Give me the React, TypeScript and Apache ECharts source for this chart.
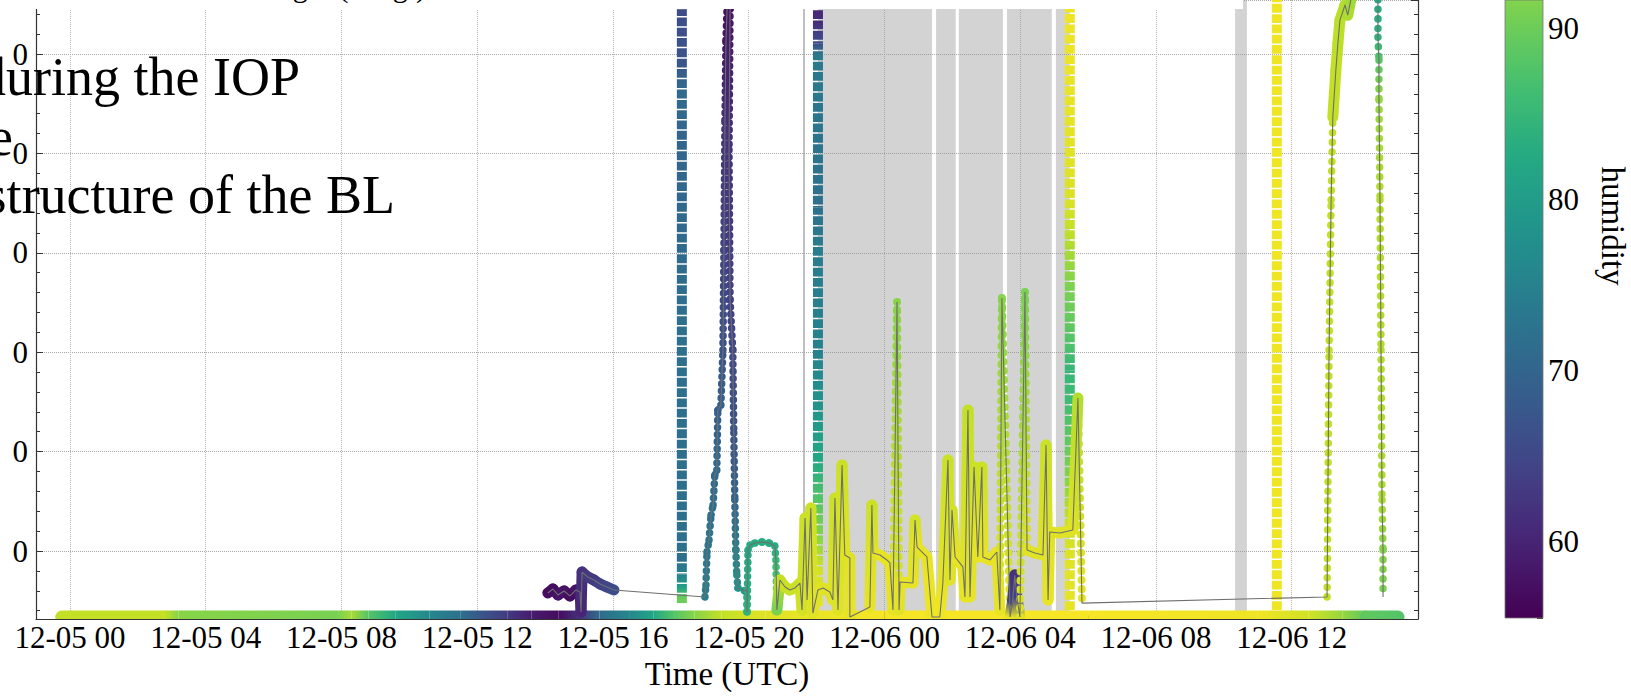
import React, { useEffect, useRef } from "react";
import * as echarts from "echarts";

const FONT = "'Liberation Serif', 'Times New Roman', serif";

// ---- axis ranges ----
const tMin = -1;
const tMax = 39.72;
const altMin = 158;
const altMax = 3272;
const rhMin = 55.56;
const rhMax = 100;
const rhBarTop = 91.64;
const dayLabels = ["12-05", "12-06"];

// ---- ground station (hours since 12-05 00 UTC, RH %) ----
const groundAlt = 168;
const groundT = [-0.24, 2.8, 3.2, 7.9, 8.3, 8.8, 9.6, 10.6, 11.5, 12.2, 12.9, 13.6, 14.4, 15.0, 15.6, 16.5, 17.2, 17.8, 18.4, 19.2, 20.5, 24, 30, 35, 36.5, 37.5, 38.2, 39.13];
const groundRH = [96, 96, 92, 91, 94, 88, 82, 76, 72, 67, 63, 59, 57, 62, 71, 76, 82, 88, 92, 96, 98, 99.5, 99.5, 99, 97, 93, 89, 88];

// ---- vertical profiles (squares) ----
const p1T = 18.03;
const p1Alt = [238, 264, 314, 380, 455, 1511, 2567, 2819, 2970, 3226, 3272];
const p1RH = [90, 90, 81, 75, 72, 72, 70, 71, 67, 66, 66];
const p2T = 22.04;
const p2Alt = [223, 404, 570, 757, 958, 1310, 1511, 1999, 2230, 2995, 3055, 3106, 3161, 3272];
const p2RH = [98.5, 97, 92, 88, 82, 77, 75, 74, 72, 73.5, 66, 64, 61, 60];
const p3T = 29.46;
const p3Alt = [203, 455, 656, 857, 1058, 1260, 1410, 1561, 1813, 1939, 2115, 2266, 2769, 3272];
const p3RH = [98.5, 98, 96, 92, 89, 86, 85, 88, 91, 93, 96, 97.5, 98.5, 99];
const p4T = 35.56;
const p4Alt = [203, 3272];
const p4RH = [99, 99];

// ---- flight tracks ----
const aT = [14.08, 14.23, 14.38, 14.56, 14.73, 14.91, 15.03, 15.06, 15.09, 15.26, 15.44, 15.62, 15.82, 16.03];
const aAlt = [289, 309, 279, 299, 274, 304, 294, 193, 394, 369, 354, 334, 319, 304];
const aRH = [57, 57, 58, 58, 57, 58, 59, 60, 62, 63, 63, 64, 65, 66];

const bT = [18.71, 18.74, 18.77, 18.83, 18.89, 18.95, 19.0, 19.06, 19.09, 19.18, 19.24, 19.27, 19.3, 19.33, 19.39, 19.45, 19.42, 19.45, 19.53, 19.56, 19.59, 19.62, 19.65, 19.68, 19.89, 19.95, 19.95, 19.98, 20.04, 20.18, 20.39, 20.6, 20.77, 20.8, 20.83];
const bAlt = [269, 329, 495, 555, 681, 731, 882, 907, 1209, 1234, 1511, 2014, 2668, 3070, 3372, 3226, 2517, 1763, 1511, 1094, 757, 505, 379, 314, 299, 304, 193, 505, 530, 540, 545, 540, 525, 455, 203];
const bRH = [74, 74, 73, 73, 72, 72, 71, 71, 69, 69, 67, 64.5, 62, 58, 57, 58, 62, 64, 65, 67, 70, 75, 77, 78, 80, 81, 84, 82, 83, 83, 83, 83, 83, 85, 91];

const c1T = [20.83, 20.92, 21.07, 21.21, 21.36, 21.51, 21.57, 21.66, 21.72, 21.83, 21.89, 22.04, 22.19, 22.39, 22.48, 22.54, 22.63, 22.75, 22.83, 22.98, 22.98];
const c1Alt = [203, 354, 319, 304, 314, 339, 203, 666, 254, 716, 188, 304, 314, 294, 254, 767, 203, 933, 480, 465, 168];
const c1RH = [91, 96, 96.5, 96.5, 96.5, 96.5, 97, 96.5, 97, 96.5, 98, 98, 98, 98, 98, 96.5, 98, 96.5, 98, 98, 98.5];

const c2T = [23.57, 23.63, 23.66, 23.87, 24.07, 24.16, 24.25, 24.37, 24.43, 24.46, 24.84, 24.9, 24.96, 25.25, 25.4, 25.63, 25.72, 25.87, 25.93, 25.99, 26.08, 26.31, 26.37, 26.46, 26.52, 26.64, 26.75, 26.87, 26.9, 27.11, 27.31, 27.4, 27.46, 27.7, 27.78, 27.84, 27.9, 27.99, 28.14, 28.2, 28.43, 28.67, 28.76, 28.82, 28.87, 29.17, 29.55, 29.7, 29.82];
const c2Alt = [218, 731, 490, 480, 455, 440, 203, 1753, 203, 344, 339, 656, 520, 470, 168, 168, 339, 958, 354, 706, 470, 420, 269, 1209, 269, 923, 470, 923, 470, 455, 495, 203, 1773, 168, 254, 379, 269, 168, 1803, 505, 490, 480, 1033, 254, 596, 591, 606, 1270, 238];
const c2RH = [98.5, 96.5, 98, 98.5, 98.5, 98.5, 98.5, 92, 98, 98.5, 98.5, 97, 98.5, 98.5, 99, 99, 98.5, 96.5, 98, 97, 98.5, 98.5, 98.5, 96, 98.5, 96.5, 98.5, 96.5, 98.5, 98.5, 98.5, 98.5, 92, 98.5, 64, 62, 64, 98, 91, 98, 98, 98, 96.5, 98.5, 98, 98, 98, 95, 98.5];

const d1T = [37.04, 37.1, 37.16, 37.21];
const d1Alt = [269, 1511, 2266, 2683];
const d1RH = [96, 96, 96, 96];
const dbT = [37.21, 37.3, 37.36, 37.42, 37.57, 37.65, 37.8, 38.3, 38.54];
const dbAlt = [2683, 2919, 3055, 3171, 3247, 3196, 3322, 3422, 3322];
const dbRH = [96, 96, 95.5, 95.5, 95, 94.5, 93, 90, 82];
const d2T = [38.54, 38.54, 38.57, 38.57, 38.6, 38.63, 38.66, 38.69, 38.69];
const d2Alt = [3322, 3085, 2970, 2769, 2266, 1511, 757, 505, 269];
const d2RH = [82, 84, 88, 93, 95, 95, 94.5, 92, 91];

// ---- shaded periods ----
const spanStart = [22.04, 25.52, 26.19, 27.61, 29.05, 34.33];
const spanEnd = [25.4, 26.1, 27.49, 28.93, 29.46, 34.68];
const markT = 21.63;

// ---- viridis ----
const viridisHex = ["#440154", "#482475", "#414487", "#355f8d", "#2a788e", "#21918c", "#22a884", "#44bf70", "#7ad151", "#bddf26", "#fde725"];
const viridisRGB = viridisHex.map((h) => [parseInt(h.slice(1, 3), 16), parseInt(h.slice(3, 5), 16), parseInt(h.slice(5, 7), 16)]);
function viridis(rh: number): string {
  let f = (rh - rhMin) / (rhMax - rhMin);
  f = Math.max(0, Math.min(1, f));
  const p = f * 10;
  const i = Math.min(9, Math.floor(p));
  const u = p - i;
  const a = viridisRGB[i], b = viridisRGB[i + 1];
  const c = a.map((v, k) => Math.round(v + (b[k] - v) * u));
  return `rgb(${c[0]},${c[1]},${c[2]})`;
}

function grad(a: number[], b: number[], c0: string, c1: string) {
  const len = Math.hypot(b[0] - a[0], b[1] - a[1]);
  if (len < 1 || c0 === c1) return c0;
  return new echarts.graphic.LinearGradient(a[0], a[1], b[0], b[1], [{ offset: 0, color: c0 }, { offset: 1, color: c1 }], true);
}

function trackSeries(name: string, t: number[], alt: number[], rh: number[], kind: string, z: number) {
  const data: number[][] = [];
  for (let i = 0; i < t.length - 1; i++) data.push([t[i], alt[i], rh[i], t[i + 1], alt[i + 1], rh[i + 1]]);
  return {
    type: "custom", name, z, clip: true, silent: true, data,
    encode: { x: 0, y: 1 },
    renderItem: (params: any, api: any) => {
      const a = api.coord([api.value(0), api.value(1)]);
      const b = api.coord([api.value(3), api.value(4)]);
      const stroke = grad(a, b, viridis(api.value(2)), viridis(api.value(5)));
      const len = Math.hypot(b[0] - a[0], b[1] - a[1]);
      let style: any;
      if (kind === "band" && len <= 195) style = { stroke, lineWidth: 11, lineCap: "round", fill: null };
      else if (kind === "band") style = { stroke, lineWidth: 8, lineCap: "round", lineDash: [0.1, 9], fill: null };
      else if (kind === "dotsWide") style = { stroke, lineWidth: 7.5, lineCap: "round", lineDash: [0.1, 9.5], fill: null };
      else style = { stroke, lineWidth: 7.5, lineCap: "round", lineDash: [0.1, 7], fill: null };
      return { type: "line", shape: { x1: a[0], y1: a[1], x2: b[0], y2: b[1] }, style };
    },
  };
}

function profileSeries(name: string, t: number, alt: number[], rh: number[]) {
  const data: number[][] = [];
  for (let i = 0; i < alt.length - 1; i++) data.push([t, alt[i], rh[i], alt[i + 1], rh[i + 1]]);
  return {
    type: "custom", name, z: 3, clip: true, silent: true, data,
    encode: { x: 0, y: 1 },
    renderItem: (params: any, api: any) => {
      const a = api.coord([api.value(0), api.value(1)]);
      const b = api.coord([api.value(0), api.value(3)]);
      const base = api.coord([t, alt[0]]);
      const stroke = grad(a, b, viridis(api.value(2)), viridis(api.value(4)));
      return {
        type: "line",
        shape: { x1: a[0], y1: a[1], x2: b[0], y2: b[1] },
        style: { stroke, lineWidth: 10, lineCap: "butt", lineDash: [8.8, 1.5], lineDashOffset: base[1] - a[1], fill: null },
      };
    },
  };
}

function groundSeries() {
  const data: number[][] = [];
  for (let i = 0; i < groundT.length - 1; i++) data.push([groundT[i], groundAlt, groundRH[i], groundT[i + 1], groundRH[i + 1]]);
  const n = data.length;
  return {
    type: "custom", name: "ground", z: 2, clip: true, silent: true, data,
    encode: { x: 0, y: 1 },
    renderItem: (params: any, api: any) => {
      const a = api.coord([api.value(0), api.value(1)]);
      const b = api.coord([api.value(3), api.value(1)]);
      const stroke = grad(a, b, viridis(api.value(2)), viridis(api.value(4)));
      const cap = params.dataIndex === 0 || params.dataIndex === n - 1 ? "round" : "butt";
      return { type: "line", shape: { x1: a[0], y1: a[1], x2: b[0], y2: b[1] }, style: { stroke, lineWidth: 13, lineCap: cap, fill: null } };
    },
  };
}

function colorbarSeries() {
  const stops: any[] = [];
  for (let k = 0; k <= 20; k++) {
    const f = k / 20;
    stops.push({ offset: f, color: viridis(rhMin + f * (rhBarTop - rhMin)) });
  }
  return {
    type: "custom", name: "colorbar", xAxisIndex: 1, yAxisIndex: 2, silent: true, z: 2,
    data: [[0.5, rhMin]],
    encode: { x: 0, y: 1 },
    renderItem: (params: any) => {
      const cs = params.coordSys;
      return {
        type: "rect",
        shape: { x: cs.x, y: cs.y, width: cs.width, height: cs.height },
        style: { fill: new echarts.graphic.LinearGradient(0, 1, 0, 0, stops), stroke: "#777", lineWidth: 0.8 },
      };
    },
  };
}

const grayPath: number[][] = [];
[[aT, aAlt], [bT, bAlt], [c1T, c1Alt], [c2T, c2Alt], [d1T, d1Alt], [dbT, dbAlt], [d2T, d2Alt]].forEach(([t, alt]) => {
  t.forEach((v, i) => grayPath.push([v, alt[i]]));
});

const labelStyle = { fontFamily: FONT, fontSize: 31, color: "#000" };

function xLabel(v: number) {
  const h = Math.round(v);
  const d = Math.floor(h / 24);
  if (d < 0 || d >= dayLabels.length) return "";
  return `${dayLabels[d]} ${String(h - 24 * d).padStart(2, "0")}`;
}

const bigText = (text: string, x: number, y: number) => ({
  type: "text", z: 101, x, y,
  style: { text, fontFamily: FONT, fontSize: 54, fill: "#000", align: "right", textAlign: "right", verticalAlign: "middle", textVerticalAlign: "middle" },
});

const option: any = {
  animation: false,
  backgroundColor: "#fff",
  textStyle: { fontFamily: FONT },
  grid: [
    { left: 36, right: 213, top: 0, bottom: 79, outerBoundsMode: "none" },
    { left: 1505, width: 38, top: 0, bottom: 80, outerBoundsMode: "none" },
  ],
  xAxis: [
    {
      type: "value", gridIndex: 0, min: tMin, max: tMax, minInterval: 4, maxInterval: 4,
      axisLine: { show: true, onZero: false, lineStyle: { color: "#333", width: 1.2 } },
      axisTick: { show: true, inside: true, length: 7, lineStyle: { color: "#333" } },
      minorTick: { show: true, splitNumber: 4, length: 4, lineStyle: { color: "#333" } },
      splitLine: { show: true, lineStyle: { color: "#b8b8b8", width: 1, type: "dotted" } },
      axisLabel: { ...labelStyle, margin: 3, formatter: xLabel, showMinLabel: false, showMaxLabel: false },
      name: "Time (UTC)", nameLocation: "middle", nameGap: 35,
      nameTextStyle: { fontFamily: FONT, fontSize: 33, color: "#000" },
    },
    { type: "value", gridIndex: 1, min: 0, max: 1, show: false },
  ],
  yAxis: [
    {
      type: "value", gridIndex: 0, min: altMin, max: altMax, minInterval: 500, maxInterval: 500,
      axisLine: { show: true, onZero: false, lineStyle: { color: "#333", width: 1.2 } },
      axisTick: { show: true, inside: true, length: 7, lineStyle: { color: "#333" } },
      minorTick: { show: true, splitNumber: 5, length: 4, lineStyle: { color: "#333" } },
      splitLine: { show: true, lineStyle: { color: "#a8a8a8", width: 1, type: "dotted" } },
      axisLabel: { ...labelStyle, margin: 8, formatter: (v: number) => String(Math.round(v)).slice(-1), showMinLabel: false, showMaxLabel: false },
    },
    {
      type: "value", gridIndex: 0, position: "right", min: altMin, max: altMax, minInterval: 500, maxInterval: 500,
      axisLine: { show: true, onZero: false, lineStyle: { color: "#333", width: 1.2 } },
      axisTick: { show: true, inside: true, length: 7, lineStyle: { color: "#333" } },
      minorTick: { show: true, splitNumber: 5, length: 4, lineStyle: { color: "#333" } },
      splitLine: { show: false },
      axisLabel: { show: false },
    },
    {
      type: "value", gridIndex: 1, position: "right", min: rhMin, max: rhBarTop, minInterval: 10, maxInterval: 10,
      axisLine: { show: false, onZero: false },
      axisTick: { show: true, inside: true, length: 6, lineStyle: { color: "#333" } },
      minorTick: { show: true, splitNumber: 5, length: 3, lineStyle: { color: "#333" } },
      splitLine: { show: false },
      axisLabel: { ...labelStyle, margin: 5, showMinLabel: false, showMaxLabel: false },
    },
  ],
  series: [
    {
      type: "line", name: "periods", z: 1, silent: true, data: [[tMin, altMin]], showSymbol: false,
      lineStyle: { opacity: 0 },
      markArea: {
        silent: true, z: 1,
        itemStyle: { color: "rgba(150,150,150,0.42)" },
        data: spanStart.map((s, i) => [{ xAxis: s }, { xAxis: spanEnd[i] }]),
      },
      markLine: {
        silent: true, z: 1, symbol: ["none", "none"], label: { show: false },
        lineStyle: { color: "#aaaaaa", width: 1.5, type: "solid" },
        data: [{ xAxis: markT }],
      },
    },
    groundSeries(),
    profileSeries("P1", p1T, p1Alt, p1RH),
    profileSeries("P2", p2T, p2Alt, p2RH),
    profileSeries("P3", p3T, p3Alt, p3RH),
    profileSeries("P4", p4T, p4Alt, p4RH),
    trackSeries("A", aT, aAlt, aRH, "band", 4),
    trackSeries("B", bT, bAlt, bRH, "dots", 4),
    trackSeries("C1", c1T, c1Alt, c1RH, "band", 4),
    trackSeries("C2", c2T, c2Alt, c2RH, "band", 4),
    trackSeries("D1", d1T, d1Alt, d1RH, "dotsWide", 4),
    trackSeries("Dband", dbT, dbAlt, dbRH, "band", 4),
    trackSeries("D2", d2T, d2Alt, d2RH, "dotsWide", 4),
    {
      type: "line", name: "path", z: 5, silent: true, data: grayPath, showSymbol: false, symbol: "none",
      clip: true, lineStyle: { color: "#6f6f6f", width: 1.1 },
    },
    colorbarSeries(),
  ],
  graphic: [
    { type: "rect", z: 100, shape: { x: 0, y: 0, width: 1243, height: 9 }, style: { fill: "#fff" } },
    {
      type: "text", z: 101, x: 426, y: -14,
      style: { text: "Height (m agl)", fontFamily: FONT, fontSize: 30, fill: "#000", align: "right", textAlign: "right", verticalAlign: "middle", textVerticalAlign: "middle" },
    },
    bigText("during the IOP", 300, 77),
    bigText("e", 13, 137),
    bigText("structure of the BL", 395, 195),
    {
      type: "text", z: 101, x: 1613, y: 226, rotation: -Math.PI / 2,
      style: { text: "humidity", fontFamily: FONT, fontSize: 33, fill: "#000", align: "center", textAlign: "center", verticalAlign: "middle", textVerticalAlign: "middle" },
    },
  ],
};

export default function App() {
  const ref = useRef<HTMLDivElement>(null);
  useEffect(() => {
    const chart = echarts.init(ref.current as HTMLDivElement, null, { renderer: "svg" });
    chart.setOption(option);
    return () => chart.dispose();
  }, []);
  return <div ref={ref} style={{ position: "fixed", left: 0, top: 0, width: 1631, height: 698, background: "#fff" }} />;
}
